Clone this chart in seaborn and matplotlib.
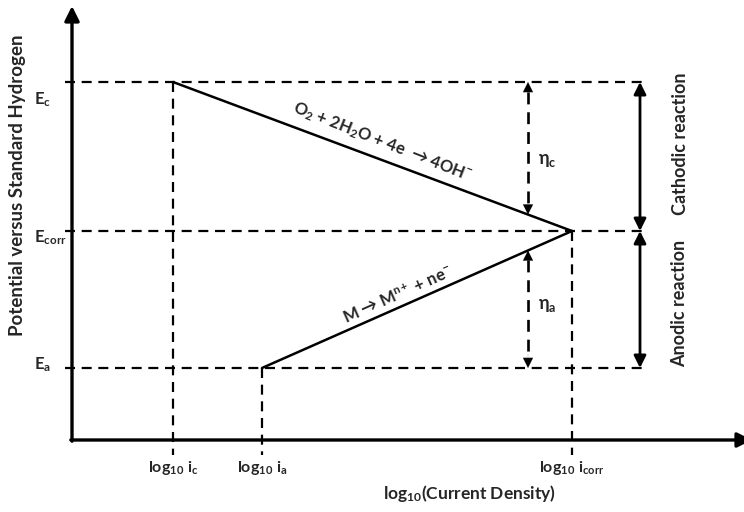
import matplotlib
matplotlib.use("Agg")
import matplotlib.pyplot as plt
import seaborn as sns
import pandas as pd

sns.set_theme(style="white")
plt.rcParams["font.family"] = ["Lato", "DejaVu Sans"]
plt.rcParams["font.weight"] = "bold"
plt.rcParams["mathtext.fontset"] = "custom"
plt.rcParams["mathtext.rm"] = "Lato:bold"
plt.rcParams["mathtext.it"] = "Lato:bold"
plt.rcParams["mathtext.bf"] = "Lato:bold"

# Evans diagram values (arbitrary units)
log_i_c = 1.01
log_i_a = 1.90
log_i_corr = 5.00
E_c = 3.58
E_corr = 2.09
E_a = 0.72

potential_labels = [r"E$_\mathrm{c}$", r"E$_\mathrm{corr}$", r"E$_\mathrm{a}$"]
potential_values = [E_c, E_corr, E_a]
current_labels = [r"log$_\mathrm{10}$ i$_\mathrm{c}$", r"log$_\mathrm{10}$ i$_\mathrm{a}$",
                  r"log$_\mathrm{10}$ i$_\mathrm{corr}$"]
current_values = [log_i_c, log_i_a, log_i_corr]

cathodic = pd.DataFrame({"log_i": [log_i_c, log_i_corr], "E": [E_c, E_corr], "branch": "cathodic"})
anodic = pd.DataFrame({"log_i": [log_i_a, log_i_corr], "E": [E_a, E_corr], "branch": "anodic"})
lines = pd.concat([cathodic, anodic], ignore_index=True)

fig = plt.figure(figsize=(7.44, 5.12), dpi=100)
ax = fig.add_axes([0, 0, 1, 1])
ax.set_xlim(-0.72, 6.72)
ax.set_ylim(-0.72, 4.40)
ax.axis("off")

dash = (0, (4.5, 3))
lw = 1.6

# polarisation lines
sns.lineplot(data=lines, x="log_i", y="E", units="branch", estimator=None,
             color="black", lw=1.8, ax=ax, sort=False)

# axes with arrowheads
ax.annotate("", xy=(0, 4.34), xytext=(0, -0.012), annotation_clip=False,
            arrowprops=dict(arrowstyle="-|>", lw=2.4, color="black", mutation_scale=22,
                            shrinkA=0, shrinkB=0))
ax.annotate("", xy=(6.80, 0), xytext=(-0.012, 0), annotation_clip=False,
            arrowprops=dict(arrowstyle="-|>", lw=2.4, color="black", mutation_scale=22,
                            shrinkA=0, shrinkB=0))

# horizontal guide lines
for yv in potential_values:
    ax.plot([-0.07, 5.75], [yv, yv], color="black", lw=lw, ls=dash)
# vertical guide lines
for xv, ytop in zip(current_values, [E_c, E_a, E_corr]):
    ax.plot([xv, xv], [ytop, -0.15], color="black", lw=lw, ls=dash)

# potential labels
for lab, yv, dy in zip(potential_labels, potential_values, [-0.18, -0.07, 0.03]):
    ax.text(-0.38, yv + dy, lab, fontsize=12, ha="left", va="center")

# current labels
for lab, xv in zip(current_labels, current_values):
    ax.text(xv, -0.28, lab, fontsize=11.5, ha="center", va="center")

ax.text(3.98, -0.54, r"log$_\mathrm{10}$(Current Density)", fontsize=12.5, ha="center", va="center")
ax.text(-0.54, 2.55, "Potential versus Standard Hydrogen", fontsize=13.5, rotation=90,
        ha="center", va="center")

# overpotential arrows
x_eta = 4.56
frac_c = (x_eta - log_i_c) / (log_i_corr - log_i_c)
y_cat = E_c + frac_c * (E_corr - E_c)
frac_a = (x_eta - log_i_a) / (log_i_corr - log_i_a)
y_an = E_a + frac_a * (E_corr - E_a)
for y0, y1 in [(E_c, y_cat), (y_an, E_a)]:
    ax.plot([x_eta, x_eta], [y0 - 0.1, y1 + 0.1], color="black", lw=lw + 0.3, ls=dash)
    ax.annotate("", xy=(x_eta, y0), xytext=(x_eta, y0 - 0.14),
                arrowprops=dict(arrowstyle="-|>", lw=0.1, color="black", mutation_scale=18,
                                shrinkA=0, shrinkB=0))
    ax.annotate("", xy=(x_eta, y1), xytext=(x_eta, y1 + 0.14),
                arrowprops=dict(arrowstyle="-|>", lw=0.1, color="black", mutation_scale=18,
                                shrinkA=0, shrinkB=0))
ax.text(x_eta + 0.1, (E_c + y_cat) / 2 - 0.12, r"η$_\mathrm{c}$", fontsize=13, va="center")
ax.text(x_eta + 0.1, (E_a + y_an) / 2 + 0.04, r"η$_\mathrm{a}$", fontsize=13, va="center")

# reaction-range arrows
x_rng = 5.68
for y0, y1 in [(E_c, E_corr), (E_corr, E_a)]:
    ax.annotate("", xy=(x_rng, y1), xytext=(x_rng, y0),
                arrowprops=dict(arrowstyle="<|-|>", lw=2.0, color="black", mutation_scale=18,
                                shrinkA=0, shrinkB=0))
ax.text(6.08, 2.96, "Cathodic reaction", fontsize=13, rotation=90,
        ha="center", va="center")
ax.text(6.08, 1.37, "Anodic reaction", fontsize=13, rotation=90,
        ha="center", va="center")

# reaction labels along the lines
ax.text(3.10, 2.98, r"O$_\mathrm{2}$ + 2H$_\mathrm{2}$O + 4e  → 4OH$^\mathrm{-}$", fontsize=12,
        rotation=-21.5, ha="center", va="center", rotation_mode="anchor")
ax.text(3.26, 1.45, r"M → M$^\mathrm{n+}$ + ne$^\mathrm{-}$", fontsize=12,
        rotation=24, ha="center", va="center", rotation_mode="anchor")

fig.savefig("out.png", dpi=100)
